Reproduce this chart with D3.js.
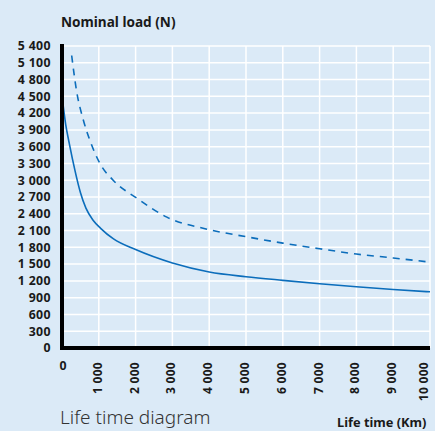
<!DOCTYPE html>
<html>
<head>
<meta charset="utf-8">
<script src="https://cdn.jsdelivr.net/npm/d3@7"></script>
<style>
  html, body { margin: 0; padding: 0; background: #dbeaf7; }
  svg text { font-family: "Noto Sans", sans-serif; fill: #1a1a1a; }
</style>
</head>
<body>
<svg id="chart"></svg>
<script>
const width = 435;
const height = 431;
const margin = { top: 46, right: 5, bottom: 83, left: 62 };

// Life time (km) and nominal load (N)
const solidKm = [0, 100, 200, 350, 500, 650, 850, 1050, 1400, 2000, 3000, 4000, 5000, 6000, 7000, 8000, 9000, 10000];
const solidLoad = [4500, 4000, 3650, 3180, 2780, 2500, 2280, 2140, 1950, 1760, 1520, 1360, 1275, 1210, 1150, 1095, 1045, 1005];

const dashedKm = [263, 400, 570, 760, 1030, 1390, 2030, 2850, 3940, 5000, 6000, 7000, 8000, 9000, 10000];
const dashedLoad = [5230, 4580, 4100, 3710, 3300, 3000, 2680, 2340, 2125, 1990, 1875, 1775, 1680, 1610, 1536];

const xTicks = [0, 1000, 2000, 3000, 4000, 5000, 6000, 7000, 8000, 9000, 10000];
const yTicks = d3.range(0, 5401, 300);

const fmt = (v) => d3.format(",")(v).replace(",", " ");

const svg = d3.select("#chart").attr("width", width).attr("height", height);

const xScale = d3.scaleLinear().domain([0, 10000]).range([margin.left, width - margin.right]);
const yScale = d3.scaleLinear().domain([0, 5400]).range([height - margin.bottom, margin.top]);

// grid
svg.append("g")
  .selectAll("line")
  .data(yTicks)
  .enter()
  .append("line")
  .attr("x1", margin.left)
  .attr("x2", width - margin.right)
  .attr("y1", (d) => yScale(d))
  .attr("y2", (d) => yScale(d))
  .style("stroke", "#fff")
  .style("stroke-width", 1.5);

svg.append("g")
  .selectAll("line")
  .data(xTicks.slice(1))
  .enter()
  .append("line")
  .attr("x1", (d) => xScale(d))
  .attr("x2", (d) => xScale(d))
  .attr("y1", margin.top)
  .attr("y2", yScale(0))
  .style("stroke", "#fff")
  .style("stroke-width", 1.5);

// curves
const line = d3.line()
  .x((d) => xScale(d[0]))
  .y((d) => yScale(d[1]))
  .curve(d3.curveMonotoneX);

svg.append("path")
  .datum(d3.zip(solidKm, solidLoad))
  .attr("d", line)
  .style("fill", "none")
  .style("stroke", "#0b6dbb")
  .style("stroke-width", 1.6);

svg.append("path")
  .datum(d3.zip(dashedKm, dashedLoad))
  .attr("d", line)
  .style("fill", "none")
  .style("stroke", "#0b6dbb")
  .style("stroke-width", 1.6)
  .style("stroke-dasharray", "7,6");

// axes lines
svg.append("line")
  .attr("x1", margin.left)
  .attr("x2", margin.left)
  .attr("y1", margin.top - 2)
  .attr("y2", yScale(0) + 2)
  .style("stroke", "#000")
  .style("stroke-width", 4);

svg.append("line")
  .attr("x1", margin.left - 2)
  .attr("x2", width - margin.right)
  .attr("y1", yScale(0))
  .attr("y2", yScale(0))
  .style("stroke", "#000")
  .style("stroke-width", 4);

// y tick labels
svg.append("g")
  .selectAll("text")
  .data(yTicks)
  .enter()
  .append("text")
  .attr("x", 51)
  .attr("y", (d) => yScale(d))
  .attr("dy", "0.35em")
  .style("text-anchor", "end")
  .style("font-size", "12.3px")
  .style("font-weight", "bold")
  .style("letter-spacing", "0.4px")
  .text((d) => fmt(d));

// x tick labels (rotated, except 0)
svg.append("text")
  .attr("x", xScale(0) + 1)
  .attr("y", 370)
  .style("text-anchor", "middle")
  .style("font-size", "12.3px")
  .style("font-weight", "bold")
  .text("0");

svg.append("g")
  .selectAll("text")
  .data(xTicks.slice(1))
  .enter()
  .append("text")
  .attr("transform", (d) => `translate(${Math.min(xScale(d) + 3, 428)}, 362) rotate(-90)`)
  .style("text-anchor", "end")
  .style("font-size", "12px")
  .style("font-weight", "bold")
  .style("letter-spacing", "0.3px")
  .text((d) => fmt(d));

// titles
svg.append("text")
  .attr("x", 61)
  .attr("y", 27)
  .style("font-size", "13.6px")
  .style("font-weight", "bold")
  .text("Nominal load (N)");

svg.append("text")
  .attr("x", 337)
  .attr("y", 427)
  .style("font-size", "12.8px")
  .style("font-weight", "bold")
  .text("Life time (Km)");

svg.append("text")
  .attr("x", 60)
  .attr("y", 424)
  .style("font-size", "19px")
  .style("font-weight", "300")
  .style("fill", "#333")
  .text("Life time diagram");
</script>
</body>
</html>
